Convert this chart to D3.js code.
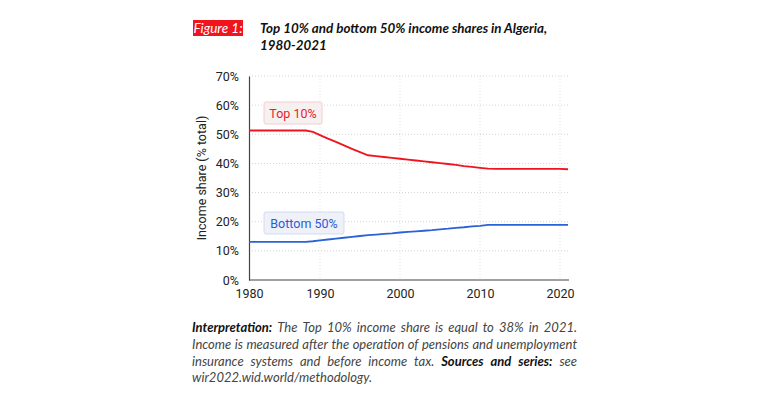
<!DOCTYPE html>
<html><head><meta charset="utf-8">
<script src="https://cdn.jsdelivr.net/npm/d3@7"></script>
<style>html,body{margin:0;padding:0;background:#fff;}svg{display:block;}</style>
</head><body>
<svg id="c" width="768" height="408"></svg>
<script>
const years = d3.range(1980, 2022);
const top10 = [51.3,51.3,51.3,51.3,51.3,51.3,51.3,51.3,51.3,50.8,49.7,48.5,47.4,46.2,45.0,43.9,42.8,42.5,42.2,41.9,41.6,41.3,41.0,40.7,40.4,40.1,39.8,39.5,39.1,38.8,38.5,38.2,38.1,38.1,38.1,38.1,38.1,38.1,38.1,38.1,38.1,38.0];
const bottom50 = [13.1,13.1,13.1,13.1,13.1,13.1,13.1,13.1,13.1,13.3,13.6,13.9,14.2,14.5,14.8,15.1,15.4,15.6,15.8,16.0,16.3,16.5,16.7,16.9,17.1,17.4,17.6,17.9,18.1,18.4,18.6,18.9,18.9,18.9,18.9,18.9,18.9,18.9,18.9,18.9,18.9,18.9];
const xTicks = [1980, 1990, 2000, 2010, 2020];
const yTicks = [0, 10, 20, 30, 40, 50, 60, 70];
const seriesNames = ["Top 10%", "Bottom 50%"];
const titleLines = ["Top 10% and bottom 50% income shares in Algeria,", "1980-2021"];
const figLabel = "Figure 1:";
const yTitle = "Income share (% total)";
const noteLines = [
  [["b","Interpretation:"],["i"," The Top 10% income share is equal to 38% in 2021."]],
  [["i","Income is measured after the operation of pensions and unemployment"]],
  [["i","insurance systems and before income tax. "],["b","Sources and series:"],["i"," see"]],
  [["i","wir2022.wid.world/methodology."]]
];

const svg = d3.select("#c");
const x = d3.scaleLinear().domain([1980, 1990, 2021]).range([249, 320, 568]);
const y = d3.scaleLinear().domain([0, 70]).range([280, 76]);

// title
svg.append("rect").attr("x",193).attr("y",20).attr("width",50).attr("height",16).attr("fill","#f0141e");
svg.append("text").attr("x",218).attr("y",33).attr("text-anchor","middle")
  .attr("font-family","Lato").attr("font-style","italic").attr("font-size",13.5).attr("fill","#fff").text(figLabel);
titleLines.forEach((t,i)=>{
  svg.append("text").attr("x",260).attr("y",33+i*16.5)
    .attr("font-family","Lato").attr("font-style","italic").attr("font-weight",700).attr("font-size",13.4).attr("fill","#111").text(t);
});

// grid
const g = svg.append("g");
g.selectAll("line.hg").data(yTicks.filter(d=>d>0)).join("line")
  .attr("x1",249).attr("x2",569).attr("y1",d=>y(d)).attr("y2",d=>y(d))
  .attr("stroke","#c8c8c8").attr("stroke-width",0.8).attr("stroke-dasharray","1,2");
g.selectAll("line.vg").data(xTicks.filter(d=>d>1980)).join("line")
  .attr("x1",d=>x(d)).attr("x2",d=>x(d)).attr("y1",76).attr("y2",280)
  .attr("stroke","#dcdcdc").attr("stroke-width",0.8).attr("stroke-dasharray","1,2");

// axes
const yAxis = svg.append("g").attr("transform","translate(249,0)")
  .call(d3.axisLeft(y).tickValues(yTicks).tickFormat(d=>d+"%").tickSize(0).tickPadding(10));
yAxis.select(".domain").attr("stroke","#444").attr("stroke-width",1.2);
yAxis.selectAll("text").attr("font-family","Roboto").attr("font-size",12.5).attr("fill","#222");
const xAxis = svg.append("g").attr("transform","translate(0,280)")
  .call(d3.axisBottom(x).tickValues(xTicks).tickFormat(d3.format("d")).tickSize(0).tickPadding(9));
xAxis.select(".domain").attr("stroke","#444").attr("stroke-width",1.2).attr("d","M249,0H569");
xAxis.selectAll("text").attr("font-family","Roboto").attr("font-size",12.5).attr("fill","#222");

svg.append("text").attr("transform","translate(206,178) rotate(-90)").attr("text-anchor","middle")
  .attr("font-family","Roboto").attr("font-size",12.5).attr("fill","#222").text(yTitle);

// lines
const line = d3.line().x((d,i)=>x(years[i])).y(d=>y(d));
svg.append("path").datum(top10).attr("d",line).attr("fill","none").attr("stroke","#f0141e").attr("stroke-width",1.8);
svg.append("path").datum(bottom50).attr("d",line).attr("fill","none").attr("stroke","#2a62d8").attr("stroke-width",1.8);

// labels
const labs = [
  {name:seriesNames[0], x0:264, y0:102, w:58, h:22, fill:"#f7f0f0", stroke:"#f0c4c6", col:"#e8202a"},
  {name:seriesNames[1], x0:264, y0:212, w:80, h:22, fill:"#eef1f8", stroke:"#c9d4ee", col:"#2a5bd7"}
];
labs.forEach(l=>{
  svg.append("rect").attr("x",l.x0).attr("y",l.y0).attr("width",l.w).attr("height",l.h).attr("rx",2)
    .attr("fill",l.fill).attr("stroke",l.stroke).attr("stroke-width",0.8);
  svg.append("text").attr("x",l.x0+l.w/2).attr("y",l.y0+l.h/2+4.5).attr("text-anchor","middle")
    .attr("font-family","Roboto").attr("font-size",12.5).attr("fill",l.col).text(l.name);
});

// note, justified
const nx0 = 192, nx1 = 577, ny0 = 332, nlh = 16.8;
noteLines.forEach((segs, li)=>{
  const words = [];
  segs.forEach(([st, txt])=>{
    txt.split(" ").forEach(w=>{ if(w.length) words.push([st,w]); });
  });
  const ty = ny0 + li*nlh;
  const nodes = words.map(([st,w])=>{
    return svg.append("text").attr("y",ty).attr("font-family","Lato").attr("font-style","italic")
      .attr("font-weight", st==="b"?700:400).attr("font-size",13)
      .attr("fill", st==="b"?"#111":"#444").text(w);
  });
  const widths = nodes.map(n=>n.node().getComputedTextLength());
  const sum = d3.sum(widths);
  const last = li === noteLines.length-1;
  const gap = last ? 3.3 : (nx1 - nx0 - sum)/(words.length-1);
  let cx = nx0;
  nodes.forEach((n,i)=>{ n.attr("x",cx); cx += widths[i] + gap; });
});
</script>
</body></html>
